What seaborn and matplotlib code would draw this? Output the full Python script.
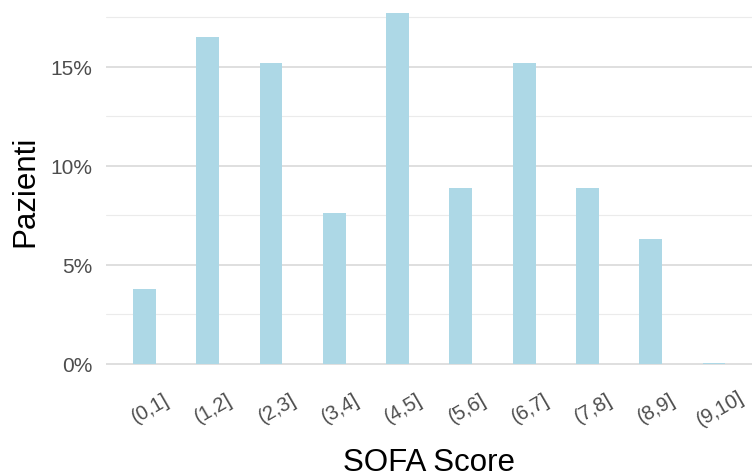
import matplotlib.pyplot as plt
import matplotlib.transforms as mtransforms
import pandas as pd
import seaborn as sns
from matplotlib.ticker import FixedLocator, FuncFormatter

# SOFA score bins and share of patients (%)
sofa_bins = ["(0,1]", "(1,2]", "(2,3]", "(3,4]", "(4,5]",
             "(5,6]", "(6,7]", "(7,8]", "(8,9]", "(9,10]"]
pazienti_pct = [3.8, 16.5, 15.2, 7.6, 17.7, 8.9, 15.2, 8.9, 6.3, 0.05]


def main():
    df = pd.DataFrame({"sofa": sofa_bins, "pct": pazienti_pct})

    sns.set_theme(style="white")
    plt.rcParams["font.family"] = ["Liberation Sans", "DejaVu Sans"]

    fig = plt.figure(figsize=(7.52, 4.77), dpi=100)
    ax = fig.add_axes([0.1416, 0.198, 0.8584, 0.802])

    sns.barplot(data=df, x="sofa", y="pct", order=sofa_bins,
                color="#ADD8E6", saturation=1, width=0.36, linewidth=0,
                ax=ax)

    ax.set_xlim(-0.6, 9.6)
    ax.set_ylim(-0.886, 18.42)

    # grid like ggplot theme_minimal (horizontal only)
    ax.yaxis.set_major_locator(FixedLocator([0, 5, 10, 15]))
    ax.yaxis.set_minor_locator(FixedLocator([2.5, 7.5, 12.5, 17.5]))
    ax.yaxis.set_major_formatter(FuncFormatter(lambda v, p: f"{v:.0f}%"))
    ax.set_axisbelow(True)
    ax.grid(which="major", axis="y", color="#D6D6D6", linewidth=1.1)
    ax.grid(which="minor", axis="y", color="#EBEBEB", linewidth=0.8)
    ax.grid(which="major", axis="x", visible=False)
    for s in ax.spines.values():
        s.set_visible(False)

    ax.tick_params(axis="y", which="both", length=0, pad=10,
                   labelsize=15, labelcolor="#4D4D4D")
    ax.tick_params(axis="x", length=0, pad=19, labelsize=14.5,
                   labelcolor="#4D4D4D")
    offset = mtransforms.ScaledTranslation(6 / 100, 0, fig.dpi_scale_trans)
    for lab in ax.get_xticklabels():
        lab.set_rotation(30)
        lab.set_ha("center")
        lab.set_va("center")
        lab.set_rotation_mode("anchor")
        lab.set_transform(lab.get_transform() + offset)

    ax.set_xlabel("SOFA Score", fontsize=22.5, color="black", labelpad=13)
    ax.set_ylabel("Pazienti", fontsize=22.5, color="black", labelpad=7)

    fig.savefig("out.png", dpi=100)


if __name__ == "__main__":
    main()
